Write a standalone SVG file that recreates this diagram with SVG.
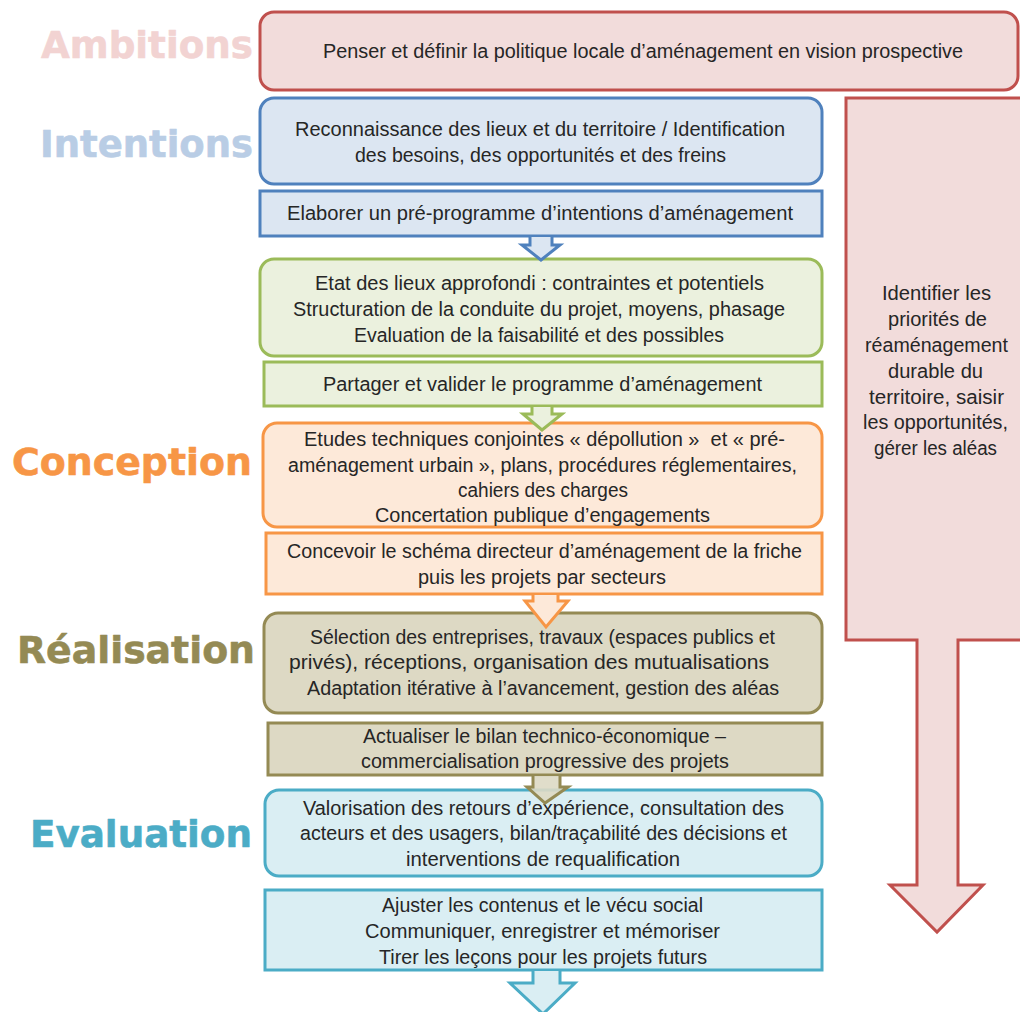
<svg xmlns="http://www.w3.org/2000/svg" width="1020" height="1012" viewBox="0 0 1020 1012">
<style>
.t{font-family:"Liberation Sans",Arial,sans-serif;font-size:20px;fill:#262626;white-space:pre}
.lab{font-family:"DejaVu Sans",Verdana,sans-serif;font-weight:bold;font-size:38px;stroke-width:0.6;stroke-linejoin:round}
.red{fill:#f2dcdb;stroke:#c0504d;stroke-width:3}
.blue{fill:#dce6f2;stroke:#4f81bd;stroke-width:3}
.green{fill:#ebf1de;stroke:#9bbb59;stroke-width:3}
.orange{fill:#fde9d9;stroke:#f79646;stroke-width:3}
.olive{fill:#ddd9c4;stroke:#948a54;stroke-width:3}
.teal{fill:#daeef3;stroke:#4bacc6;stroke-width:3}
</style>
<rect width="1020" height="1012" fill="#ffffff"/>
<g id="labels">
<text class="lab" x="41" y="58" textLength="212" lengthAdjust="spacingAndGlyphs" fill="#f2d3d2" stroke="#f2d3d2">Ambitions</text>
<text class="lab" x="40" y="157" textLength="213" lengthAdjust="spacingAndGlyphs" fill="#b9cde5" stroke="#b9cde5">Intentions</text>
<text class="lab" x="12" y="475" textLength="240" lengthAdjust="spacingAndGlyphs" fill="#f79646" stroke="#f79646">Conception</text>
<text class="lab" x="17" y="663" textLength="238" lengthAdjust="spacingAndGlyphs" fill="#948a54" stroke="#948a54">Réalisation</text>
<text class="lab" x="30" y="847" textLength="222" lengthAdjust="spacingAndGlyphs" fill="#4bacc6" stroke="#4bacc6">Evaluation</text>
</g>
<g id="right-arrow">
<path class="red" d="M846,98 H1024 V640 H958 V885 H983 L937,932 L890,885 H917 V640 H846 Z"/>
<text class="t" x="882" y="300" textLength="109" lengthAdjust="spacingAndGlyphs">Identifier les</text>
<text class="t" x="888" y="326" textLength="99" lengthAdjust="spacingAndGlyphs">priorités de</text>
<text class="t" x="865" y="352" textLength="143" lengthAdjust="spacingAndGlyphs">réaménagement</text>
<text class="t" x="888" y="378" textLength="95" lengthAdjust="spacingAndGlyphs">durable du</text>
<text class="t" x="869" y="404" textLength="135" lengthAdjust="spacingAndGlyphs">territoire, saisir</text>
<text class="t" x="863" y="429" textLength="145" lengthAdjust="spacingAndGlyphs">les opportunités,</text>
<text class="t" x="874" y="455" textLength="123" lengthAdjust="spacingAndGlyphs">gérer les aléas</text>
</g>
<g id="ambitions">
<rect class="red" x="260" y="12" width="758" height="78" rx="14"/>
<text class="t" x="323" y="58" textLength="640" lengthAdjust="spacingAndGlyphs">Penser et définir la politique locale d’aménagement en vision prospective</text>
</g>
<g id="intentions-1">
<rect class="blue" x="260" y="98" width="562" height="86" rx="14"/>
<text class="t" x="295" y="136" textLength="490" lengthAdjust="spacingAndGlyphs">Reconnaissance des lieux et du territoire / Identification</text>
<text class="t" x="355" y="162" textLength="371" lengthAdjust="spacingAndGlyphs">des besoins, des opportunités et des freins</text>
</g>
<g id="intentions-2">
<rect class="blue" x="260" y="191" width="562" height="45"/>
<text class="t" x="287" y="220" textLength="506" lengthAdjust="spacingAndGlyphs">Elaborer un pré-programme d’intentions d’aménagement</text>
</g>
<g id="etat-des-lieux">
<rect class="green" x="260" y="259" width="562" height="97" rx="14"/>
<text class="t" x="315" y="290" textLength="449" lengthAdjust="spacingAndGlyphs">Etat des lieux approfondi : contraintes et potentiels</text>
<text class="t" x="293" y="316" textLength="492" lengthAdjust="spacingAndGlyphs">Structuration de la conduite du projet, moyens, phasage</text>
<text class="t" x="354" y="342" textLength="370" lengthAdjust="spacingAndGlyphs">Evaluation de la faisabilité et des possibles</text>
</g>
<g id="programme">
<rect class="green" x="264" y="362" width="558" height="44"/>
<text class="t" x="323" y="391" textLength="439" lengthAdjust="spacingAndGlyphs">Partager et valider le programme d’aménagement</text>
</g>
<g id="conception-1">
<rect class="orange" x="263" y="423" width="559" height="104" rx="14"/>
<text class="t" x="304" y="446" textLength="481" lengthAdjust="spacingAndGlyphs">Etudes techniques conjointes « dépollution »  et « pré-</text>
<text class="t" x="288" y="472" textLength="509" lengthAdjust="spacingAndGlyphs">aménagement urbain », plans, procédures réglementaires,</text>
<text class="t" x="458" y="497" textLength="170" lengthAdjust="spacingAndGlyphs">cahiers des charges</text>
<text class="t" x="375" y="522" textLength="335" lengthAdjust="spacingAndGlyphs">Concertation publique d’engagements</text>
</g>
<g id="conception-2">
<rect class="orange" x="266" y="533" width="556" height="61"/>
<text class="t" x="287" y="558" textLength="515" lengthAdjust="spacingAndGlyphs">Concevoir le schéma directeur d’aménagement de la friche</text>
<text class="t" x="418" y="584" textLength="248" lengthAdjust="spacingAndGlyphs">puis les projets par secteurs</text>
</g>
<g id="realisation-1">
<rect class="olive" x="264" y="613" width="558" height="100" rx="14"/>
<text class="t" x="310" y="644" textLength="465" lengthAdjust="spacingAndGlyphs">Sélection des entreprises, travaux (espaces publics et</text>
<text class="t" x="289" y="669" textLength="480" lengthAdjust="spacingAndGlyphs">privés), réceptions, organisation des mutualisations</text>
<text class="t" x="307" y="695" textLength="472" lengthAdjust="spacingAndGlyphs">Adaptation itérative à l’avancement, gestion des aléas</text>
</g>
<g id="realisation-2">
<rect class="olive" x="268" y="723" width="554" height="52"/>
<text class="t" x="363" y="743" textLength="363" lengthAdjust="spacingAndGlyphs">Actualiser le bilan technico-économique –</text>
<text class="t" x="361" y="768" textLength="368" lengthAdjust="spacingAndGlyphs">commercialisation progressive des projets</text>
</g>
<g id="evaluation-1">
<rect class="teal" x="265" y="790" width="557" height="86" rx="14"/>
<text class="t" x="303" y="815" textLength="481" lengthAdjust="spacingAndGlyphs">Valorisation des retours d’expérience, consultation des</text>
<text class="t" x="300" y="840" textLength="487" lengthAdjust="spacingAndGlyphs">acteurs et des usagers, bilan/traçabilité des décisions et</text>
<text class="t" x="406" y="866" textLength="274" lengthAdjust="spacingAndGlyphs">interventions de requalification</text>
</g>
<g id="evaluation-2">
<rect class="teal" x="265" y="890" width="557" height="80"/>
<text class="t" x="382" y="912" textLength="321" lengthAdjust="spacingAndGlyphs">Ajuster les contenus et le vécu social</text>
<text class="t" x="365" y="938" textLength="355" lengthAdjust="spacingAndGlyphs">Communiquer, enregistrer et mémoriser</text>
<text class="t" x="379" y="964" textLength="328" lengthAdjust="spacingAndGlyphs">Tirer les leçons pour les projets futurs</text>
</g>
<g id="connectors">
<path class="blue" d="M530,237 V245 H522 L541,260 L560,245 H552 V237"/>
<path class="green" d="M532,407 V414 H523 L542,430 L562,414 H552 V407"/>
<path class="orange" d="M533,595 V601 H525 L546,627 L568,601 H558 V595"/>
<path class="olive" d="M533,776 V787 H527 L545,803 L568,787 H560 V776" fill="#c4bd97" fill-opacity="0.9"/>
<path class="teal" d="M533,971 V983 H510 L543,1014 L575,983 H560 V971"/>
</g>
</svg>
